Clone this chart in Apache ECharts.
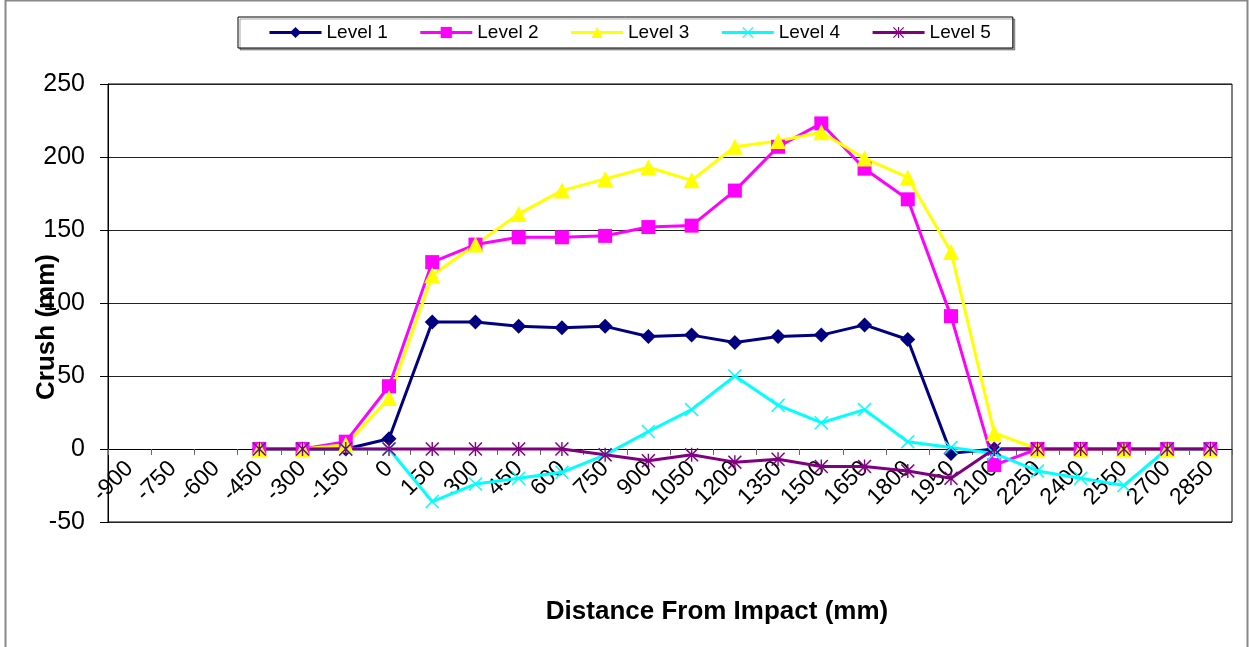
<!DOCTYPE html>
<html>
<head>
<meta charset="utf-8">
<script src="https://cdn.jsdelivr.net/npm/echarts@6/dist/echarts.min.js"></script>
<style>
html,body{margin:0;padding:0;background:#fff;}
#chart{width:1249px;height:647px;}
</style>
</head>
<body>
<div id="chart"></div>
<script>
var categories = ['-900','-750','-600','-450','-300','-150','0','150','300','450','600','750','900','1050','1200','1350','1500','1650','1800','1950','2100','2250','2400','2550','2700','2850'];
var level1 = ['-','-','-',0,0,0,7,87,87,84,83,84,77,78,73,77,78,85,75,-3,0,0,0,0,0,0];
var level2 = ['-','-','-',0,0,5,43,128,140,145,145,146,152,153,177,207,223,192,171,91,-11,0,0,0,0,0];
var level3 = ['-','-','-',0,0,3,35,119,140,161,177,185,193,184,207,211,217,199,186,135,11,0,0,0,0,0];
var level4 = ['-','-','-',0,0,0,0,-36,-24,-20,-16,-4,12,27,50,30,18,27,5,1,-3,-15,-20,-25,0,0];
var level5 = ['-','-','-',0,0,0,0,0,0,0,0,-4,-8,-4,-9,-7,-12,-12,-15,-20,0,0,0,0,0,0];
var yTicks = {min:-50, max:250, interval:50};

var FONT = 'Liberation Sans';
var xPath = 'path://M0,1.5L1.5,0L10,8.5L18.5,0L20,1.5L11.5,10L20,18.5L18.5,20L10,11.5L1.5,20L0,18.5L8.5,10Z';
var starPath = 'path://M0,1.5L1.5,0L10,8.5L18.5,0L20,1.5L11.5,10L20,18.5L18.5,20L10,11.5L1.5,20L0,18.5L8.5,10Z M9,0L11,0L11,20L9,20Z';

function mk(name, data, color, symbol, size){
  return {
    name: name, type: 'line', data: data,
    symbol: symbol, symbolSize: size, showAllSymbol: true,
    lineStyle: {color: color, width: 3},
    itemStyle: {color: color, borderWidth: 0},
    emphasis: {disabled: true},
    animation: false
  };
}

var chart = echarts.init(document.getElementById('chart'), null, {renderer: 'canvas'});
chart.setOption({
  animation: false,
  backgroundColor: '#fff',
  textStyle: {fontFamily: FONT},
  grid: {left: 108, top: 84, right: 17, bottom: 125, show: true, borderColor: '#000', borderWidth: 1, backgroundColor: 'transparent'},
  legend: {
    left: 238, top: 17,
    padding: [5, 22, 5, 30],
    itemGap: 31, itemWidth: 52, itemHeight: 14,
    lineStyle: {width: 3},
    borderColor: '#000', borderWidth: 1, backgroundColor: '#fff',
    shadowColor: 'rgba(0,0,0,0.35)', shadowOffsetX: 2, shadowOffsetY: 2, shadowBlur: 0,
    textStyle: {fontSize: 19, color: '#000', fontFamily: FONT, lineHeight: 21},
    data: ['Level 1','Level 2','Level 3','Level 4','Level 5']
  },
  xAxis: {
    type: 'category', data: categories, boundaryGap: true,
    axisLine: {onZero: true, lineStyle: {color: '#000', width: 1}},
    axisTick: {show: true, length: 6, lineStyle: {color: '#666'}},
    axisLabel: {interval: 0, rotate: 45, fontSize: 23, color: '#000', fontFamily: FONT, margin: -57},
    splitLine: {show: false}
  },
  yAxis: {
    type: 'value', min: yTicks.min, max: yTicks.max, interval: yTicks.interval,
    axisLine: {show: true, lineStyle: {color: '#000', width: 1}},
    axisTick: {show: true, length: 8, lineStyle: {color: '#000'}},
    axisLabel: {fontSize: 25, color: '#000', fontFamily: FONT, margin: 23},
    splitLine: {show: true, lineStyle: {color: '#222', width: 1}}
  },
  graphic: [
    {type: 'rect', silent: true, z: -10, shape: {x: 5.5, y: 0.5, width: 1242, height: 660}, style: {fill: 'none', stroke: '#888', lineWidth: 2}},
    {type: 'text', silent: true, x: 717, y: 612, style: {text: 'Distance From Impact (mm)', font: 'bold 26px "Liberation Sans"', fill: '#000', align: 'center', verticalAlign: 'middle'}},
    {type: 'text', silent: true, x: 47, y: 327, rotation: Math.PI / 2, style: {text: 'Crush (mm)', font: 'bold 26px "Liberation Sans"', fill: '#000', align: 'center', verticalAlign: 'middle'}, z: 100}
  ],
  series: [
    mk('Level 1', level1, '#000080', 'diamond', 15),
    mk('Level 2', level2, '#FF00FF', 'rect', 14),
    mk('Level 3', level3, '#FFFF00', 'triangle', 16),
    mk('Level 4', level4, '#00FFFF', xPath, 14),
    mk('Level 5', level5, '#800080', starPath, 14)
  ]
});
</script>
</body>
</html>
